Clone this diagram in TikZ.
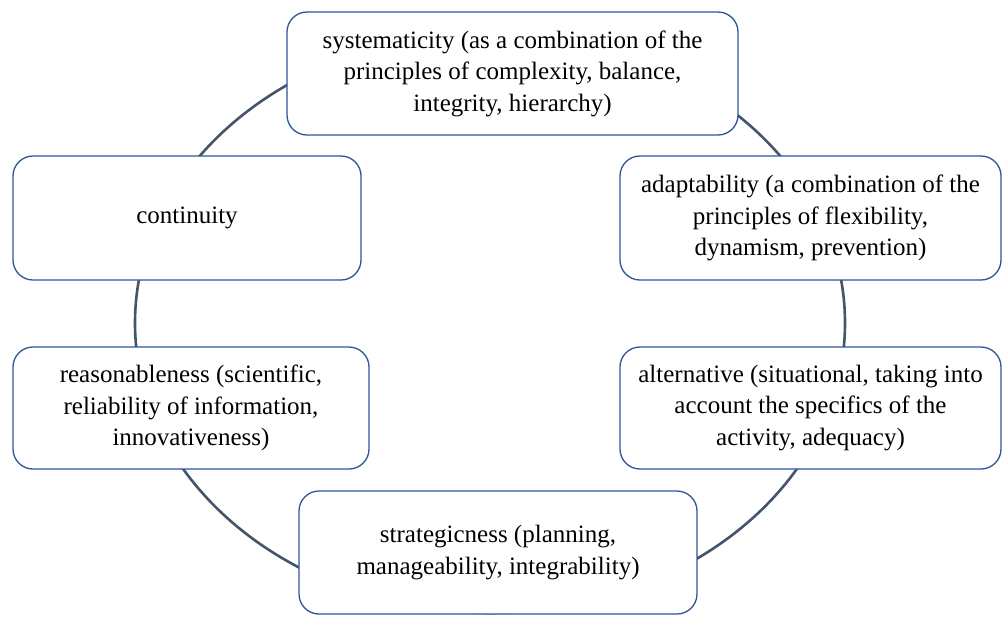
\documentclass[tikz,border=0pt]{standalone}
\usepackage{fontspec}
\setmainfont{Liberation Serif}
\usetikzlibrary{positioning}
\definecolor{cb}{HTML}{2F5597}
\definecolor{cl}{HTML}{44546A}

\begin{document}
\begin{tikzpicture}[x=1pt,y=-1pt,
    princ/.style={rectangle,rounded corners=20pt,draw=cb,line width=1.3pt,fill=white,inner sep=2pt,
      font=\fontsize{25}{31.5}\selectfont,align=center},
  ]
  \useasboundingbox (0,0) rectangle (1003,625);
  % the ring behind the boxes
  \draw[cl,line width=2.6pt] (490,323) ellipse [x radius=355pt,y radius=290pt];
  \node[princ,minimum width=451pt,minimum height=123pt] (sys)   at (512.5,73.5) {systematicity (as a combination of the\\principles of complexity, balance,\\integrity, hierarchy)};
  \node[princ,minimum width=348pt,minimum height=124pt] (cont)  at (187,218)   {continuity};
  \node[princ,minimum width=381pt,minimum height=124pt] (adapt) at (810.5,218) {adaptability (a combination of the\\principles of flexibility,\\dynamism, prevention)};
  \node[princ,minimum width=356pt,minimum height=122pt] (reas)  at (191,408)   {reasonableness (scientific,\\reliability of information,\\innovativeness)};
  \node[princ,minimum width=381pt,minimum height=122pt] (alt)   at (810.5,408) {alternative (situational, taking into\\account the specifics of the\\activity, adequacy)};
  \node[princ,minimum width=398pt,minimum height=123pt] (strat) at (498,552.5) {strategicness (planning,\\manageability, integrability)};
\end{tikzpicture}
\end{document}
